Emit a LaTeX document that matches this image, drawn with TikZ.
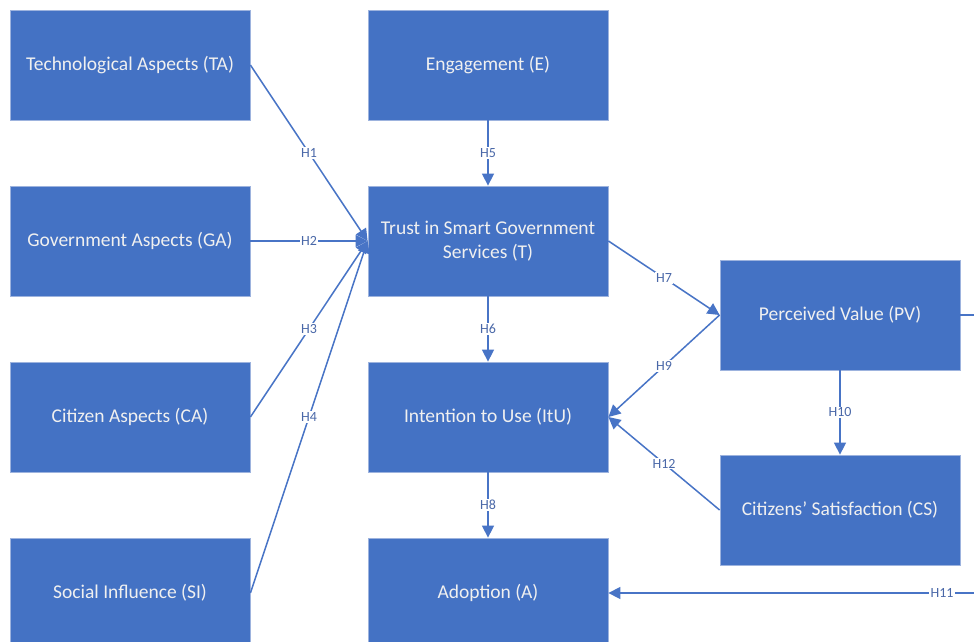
\documentclass[tikz,border=0pt]{standalone}
\usepackage{fontspec}
\setmainfont{Carlito}
\usetikzlibrary{arrows.meta}
\definecolor{boxblue}{HTML}{4472C4}
\definecolor{boxedge}{HTML}{9DB3DE}
\definecolor{lineblue}{HTML}{4874C6}
\definecolor{lbltext}{HTML}{4A68A8}
\tikzset{
  construct/.style={rectangle, fill=boxblue, draw=boxedge, line width=0.8pt,
    minimum width=240pt, minimum height=110pt, text=white!94!black,
    font=\fontsize{19.5}{24}\selectfont, align=center, inner sep=2pt},
  link/.style={draw=lineblue, line width=1.5pt,
    -{Triangle[length=12pt,width=12pt]}},
  hlabel/.style={fill=white, text=lbltext, inner sep=1.2pt,
    font=\fontsize{14}{16}\selectfont}
}
\begin{document}
\begin{tikzpicture}[x=1pt,y=-1pt]
\useasboundingbox (0,0) rectangle (974,642);
\clip (0,0) rectangle (974,642);
\fill[white] (0,0) rectangle (974,642);

% antecedents
\node[construct] (TA) at (130,65)  {Technological Aspects (TA)};
\node[construct] (GA) at (130,241) {Government Aspects (GA)};
\node[construct] (CA) at (130,417) {Citizen Aspects (CA)};
\node[construct] (SI) at (130,593) {Social Influence (SI)};

% central chain
\node[construct] (E)   at (488,65)  {Engagement (E)};
\node[construct] (T)   at (488,241) {Trust in Smart Government\\Services (T)};
\node[construct] (ItU) at (488,417) {Intention to Use (ItU)};
\node[construct] (A)   at (488,593) {Adoption (A)};

% value and satisfaction
\node[construct] (PV) at (840,315) {Perceived Value (PV)};
\node[construct] (CS) at (840,510) {Citizens’ Satisfaction (CS)};

\coordinate (h11turn) at (1000,593);

% hypotheses
\draw[link] (TA.east) -- node[hlabel] {H1} (T.west);
\draw[link] (GA.east) -- node[hlabel] {H2} (T.west);
\draw[link] (CA.east) -- node[hlabel] {H3} (T.west);
\draw[link] (SI.east) -- node[hlabel] {H4} (T.west);
\draw[link] (E.south) -- node[hlabel] {H5} (T.north);
\draw[link] (T.south) -- node[hlabel] {H6} (ItU.north);
\draw[link] (T.east) -- node[hlabel] {H7} (PV.west);
\draw[link] (ItU.south) -- node[hlabel] {H8} (A.north);
\draw[link] (PV.west) -- node[hlabel] {H9} (ItU.east);
\draw[link] (PV.south) -- node[hlabel] {H10} (CS.north);
\draw[link] (PV.east) -| (h11turn) -- node[hlabel,pos=0.148] {H11} (A.east);
\draw[link] (CS.west) -- node[hlabel] {H12} (ItU.east);
\end{tikzpicture}
\end{document}
